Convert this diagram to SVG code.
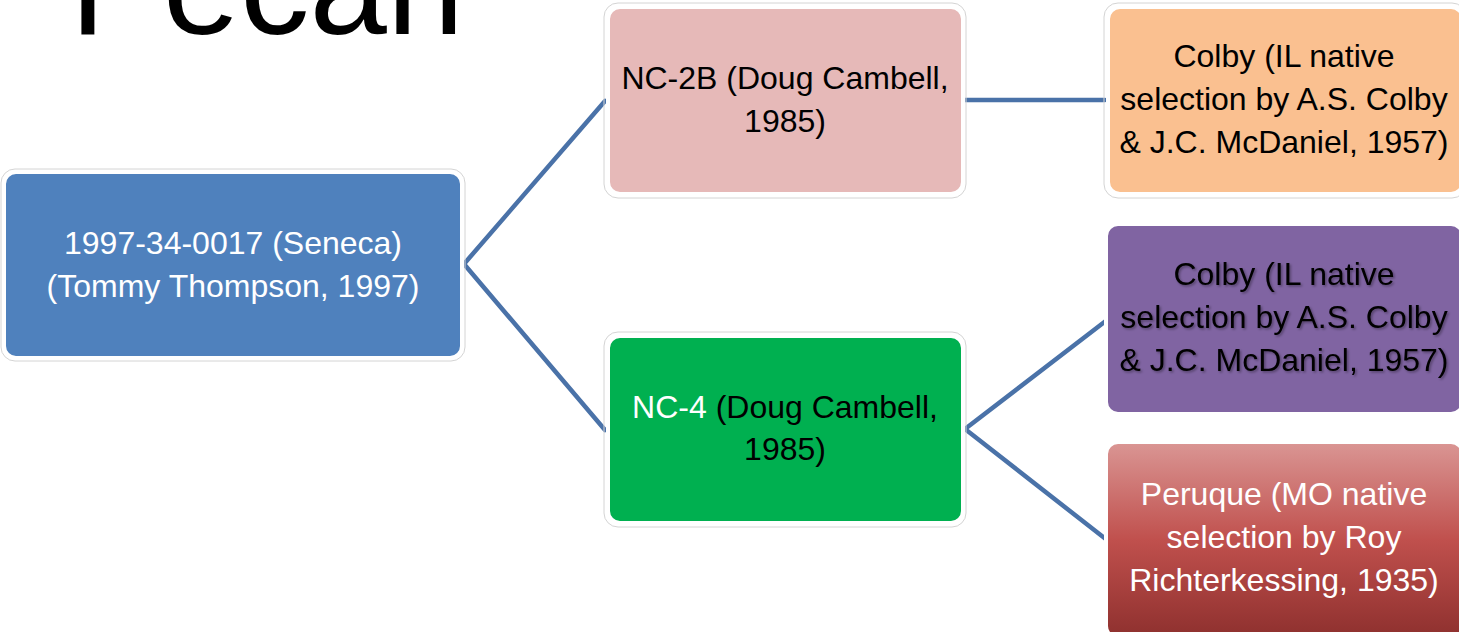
<svg xmlns="http://www.w3.org/2000/svg" width="1459" height="632" viewBox="0 0 1459 632">
<defs>
<linearGradient id="redGrad" x1="0" y1="0" x2="0" y2="1">
<stop offset="0" stop-color="#DA9694"/>
<stop offset="0.5" stop-color="#C0504D"/>
<stop offset="1" stop-color="#8E302E"/>
</linearGradient>
<filter id="txtShadow" x="-5%" y="-20%" width="110%" height="140%">
<feDropShadow dx="1.5" dy="1.5" stdDeviation="1" flood-color="#000" flood-opacity="0.35"/>
</filter>
</defs>
<style>
.box{stroke:#FFFFFF;stroke-width:4}
.halo{fill:none;stroke:#D4D4D4;stroke-width:1}
.lbl{font-family:"Liberation Sans",Arial,sans-serif;font-size:32px;text-anchor:middle}
.w{fill:#FFFFFF}
.k{fill:#000000}
.conn{stroke:#4A72A8;stroke-width:4.5;fill:none;stroke-linecap:round}
.title{font-family:"Liberation Sans",Arial,sans-serif;font-size:139px;fill:#000}
</style>
<rect width="1459" height="632" fill="#FFFFFF"/>
<text class="title" x="70" y="34">Pecan</text>
<g id="connectors">
<line class="conn" x1="464" y1="264" x2="605" y2="101"/>
<line class="conn" x1="464" y1="264" x2="605" y2="430"/>
<line class="conn" x1="965" y1="100" x2="1105" y2="100"/>
<line class="conn" x1="965" y1="429" x2="1107" y2="320"/>
<line class="conn" x1="965" y1="429" x2="1107" y2="540"/>
</g>
<g id="root">
<rect class="halo" x="1" y="169" width="464" height="192" rx="14"/>
<rect class="box" x="4" y="172" width="458" height="186" rx="12" fill="#4F81BD"/>
<text class="lbl w" x="233" y="254">1997-34-0017 (Seneca)</text>
<text class="lbl w" x="233" y="297">(Tommy Thompson, 1997)</text>
</g>
<g id="nc2b">
<rect class="halo" x="604" y="3" width="362" height="195" rx="14"/>
<rect class="box" x="608" y="7" width="355" height="187" rx="12" fill="#E6B9B8"/>
<text class="lbl k" x="785" y="89">NC-2B (Doug Cambell,</text>
<text class="lbl k" x="785" y="132">1985)</text>
</g>
<g id="nc4">
<rect class="halo" x="604" y="332" width="362" height="195" rx="14"/>
<rect class="box" x="608" y="336" width="355" height="187" rx="12" fill="#00B050"/>
<text class="lbl k" x="785" y="418"><tspan class="w">NC-4</tspan> (Doug Cambell,</text>
<text class="lbl k" x="785" y="460">1985)</text>
</g>
<g id="colby1">
<rect class="halo" x="1104" y="3" width="362" height="195" rx="14"/>
<rect class="box" x="1108" y="7" width="355" height="187" rx="12" fill="#FAC090"/>
<text class="lbl k" x="1284" y="67">Colby (IL native</text>
<text class="lbl k" x="1284" y="110">selection by A.S. Colby</text>
<text class="lbl k" x="1284" y="153">&amp; J.C. McDaniel, 1957)</text>
</g>
<g id="colby2">
<rect class="box" x="1106" y="224" width="357" height="190" rx="12" fill="#8064A2"/>
<g filter="url(#txtShadow)">
<text class="lbl k" x="1284" y="285">Colby (IL native</text>
<text class="lbl k" x="1284" y="328">selection by A.S. Colby</text>
<text class="lbl k" x="1284" y="371">&amp; J.C. McDaniel, 1957)</text>
</g>
</g>
<g id="peruque">
<rect class="box" x="1106" y="442" width="357" height="196" rx="12" fill="url(#redGrad)"/>
<text class="lbl w" x="1284" y="505">Peruque (MO native</text>
<text class="lbl w" x="1284" y="548">selection by Roy</text>
<text class="lbl w" x="1284" y="591">Richterkessing, 1935)</text>
</g>
</svg>
